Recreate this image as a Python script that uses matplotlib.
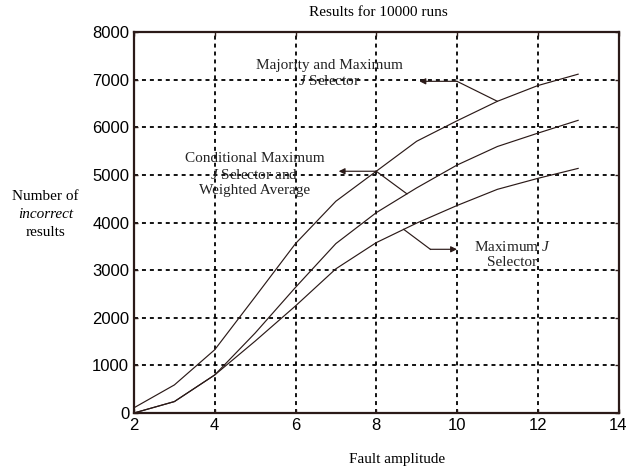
import numpy as np
import matplotlib.pyplot as plt

plt.rcParams['mathtext.fontset'] = 'custom'
plt.rcParams['mathtext.rm'] = 'Liberation Serif'
plt.rcParams['mathtext.it'] = 'Liberation Serif:italic'

# fault amplitude and number of incorrect results (out of 10000 runs)
amplitude = [2, 3, 4, 5, 6, 7, 8, 9, 10, 11, 12, 13]
majority_max_j = [110, 590, 1330, 2440, 3560, 4450, 5080, 5710, 6140, 6550, 6880, 7120]
cond_max_j_weighted = [0, 240, 800, 1680, 2640, 3560, 4210, 4730, 5210, 5600, 5880, 6150]
max_j = [0, 240, 800, 1510, 2250, 3030, 3580, 3990, 4360, 4700, 4930, 5140]

x_ticks = [2, 4, 6, 8, 10, 12, 14]
y_ticks = [0, 1000, 2000, 3000, 4000, 5000, 6000, 7000, 8000]

ink = '#2b1a18'
serif = 'Liberation Serif'

fig = plt.figure(figsize=(6.3, 4.71), dpi=100)
ax = fig.add_axes([134 / 630, 1 - 413 / 471, (618.5 - 134) / 630, (413 - 32.3) / 471])

for series in (majority_max_j, cond_max_j_weighted, max_j):
    ax.plot(amplitude, series, color=ink, lw=0.85)

ax.set_xlim(2, 14)
ax.set_ylim(0, 8000)
ax.set_xticks(x_ticks)
ax.set_yticks(y_ticks)
ax.grid(True, color='black', linestyle=(0, (2.2, 2.2)), linewidth=1.3)
ax.tick_params(direction='in', top=True, right=True, length=3, width=1,
               color=ink, labelsize=12, pad=3.5)
for lab in ax.get_xticklabels() + ax.get_yticklabels():
    lab.set_fontfamily('Liberation Sans')
for sp in ax.spines.values():
    sp.set_color(ink)
    sp.set_linewidth(1.6)

# labelled arrows pointing at each curve
def callout(start, corner, tip):
    ax.plot([start[0], corner[0]], [start[1], corner[1]], color=ink, lw=0.85)
    ax.annotate('', xy=tip, xytext=corner,
                arrowprops=dict(arrowstyle='-|>', color=ink, lw=0.85,
                                mutation_scale=9, shrinkA=0, shrinkB=0))

callout((11, np.interp(11, amplitude, majority_max_j)), (10.0, 6970), (9.07, 6970))
callout((8.76, np.interp(8.76, amplitude, cond_max_j_weighted)),
        (8.0, np.interp(8.0, amplitude, majority_max_j)), (7.07, 5080))
callout((8.68, np.interp(8.68, amplitude, max_j)), (9.34, 3440), (10.0, 3440))

ax.text(6.83, 7127, 'Majority and Maximum\n$J$ Selector', ha='center', va='center',
        fontsize=11, family=serif, linespacing=1.2, color='#222222')
ax.text(4.98, 5012, 'Conditional Maximum\n$J$ Selector and\nWeighted Average',
        ha='center', va='center', fontsize=11, family=serif, linespacing=1.2,
        color='#222222')
ax.text(11.37, 3333, 'Maximum $J$\nSelector', ha='center', va='center',
        fontsize=11, family=serif, linespacing=1.2, color='#222222')

fig.text(378 / 630, 1 - 13 / 471, 'Results for 10000 runs', ha='center', va='center',
         fontsize=11, family=serif)
fig.text(397 / 630, 1 - 460 / 471, 'Fault amplitude', ha='center', va='center',
         fontsize=11, family=serif)
fig.text(45.5 / 630, 1 - 196 / 471, 'Number of', ha='center', va='center',
         fontsize=11, family=serif)
fig.text(45.5 / 630, 1 - 214.5 / 471, 'incorrect', ha='center', va='center',
         fontsize=11, family=serif, style='italic')
fig.text(45.5 / 630, 1 - 233 / 471, 'results', ha='center', va='center',
         fontsize=11, family=serif)

fig.savefig('out.png', dpi=100)
